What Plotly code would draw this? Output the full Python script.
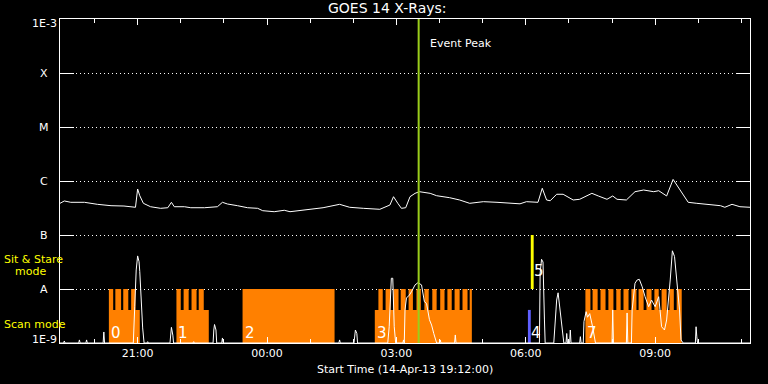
import numpy as np
import plotly.graph_objects as go

# ---------------- data ----------------
START = "2013-04-14 19:12:00"
END = "2013-04-15 11:12:00"
EVENT_PEAK = "03:31"

# GOES 14 long-channel flux (W/m^2)
FLUX_TIMES = ["19:12", "19:18", "19:27", "19:46", "20:04", "20:23", "20:41", "20:57", "21:00", "21:03",
              "21:08", "21:18", "21:32", "21:42", "21:47", "21:51", "22:05", "22:14", "22:33", "22:51",
              "22:58", "23:05", "23:19", "23:33", "23:47", "23:54", "00:10", "00:24", "00:32", "00:55",
              "01:18", "01:41", "01:55", "02:14", "02:37", "02:51", "02:56", "03:02", "03:07", "03:13",
              "03:19", "03:26", "03:32", "03:47", "03:56", "04:14", "04:28", "04:42", "05:01", "05:20",
              "05:38", "05:52", "06:01", "06:17", "06:23", "06:29", "06:34", "06:43", "06:52", "07:06",
              "07:15", "07:32", "07:41", "07:53", "08:01", "08:07", "08:20", "08:32", "08:44", "08:58",
              "09:05", "09:16", "09:25", "09:30", "09:40", "09:46", "09:58", "10:12", "10:31", "10:37",
              "10:47", "10:58", "11:12"]
FLUX_VALUES = [3.86e-7, 4.27e-7, 4.03e-7, 4.03e-7, 3.70e-7, 3.49e-7, 3.44e-7, 3.26e-7, 7.11e-7, 5.34e-7,
               3.86e-7, 3.34e-7, 3.12e-7, 3.20e-7, 4.03e-7, 3.34e-7, 3.34e-7, 3.20e-7, 3.20e-7, 3.34e-7,
               4.03e-7, 3.75e-7, 3.49e-7, 3.20e-7, 3.12e-7, 2.82e-7, 2.70e-7, 2.87e-7, 2.70e-7, 2.90e-7,
               3.20e-7, 3.70e-7, 3.26e-7, 3.12e-7, 2.99e-7, 3.59e-7, 5.12e-7, 3.86e-7, 3.12e-7, 3.20e-7,
               5.12e-7, 5.91e-7, 6.34e-7, 5.91e-7, 5.34e-7, 4.91e-7, 4.45e-7, 3.86e-7, 4.14e-7, 4.03e-7,
               3.86e-7, 3.78e-7, 4.14e-7, 4.03e-7, 7.33e-7, 4.45e-7, 4.31e-7, 5.68e-7, 5.68e-7, 4.45e-7,
               4.58e-7, 5.91e-7, 5.28e-7, 4.58e-7, 5.28e-7, 4.58e-7, 4.45e-7, 6.34e-7, 6.81e-7, 6.34e-7,
               6.61e-7, 5.28e-7, 1.07e-6, 8.43e-7, 5.12e-7, 4.03e-7, 3.86e-7, 3.70e-7, 3.49e-7, 3.26e-7,
               3.70e-7, 3.34e-7, 3.26e-7]

# lower-panel activity trace
LOW_TIMES = ["19:12", "19:17", "19:18", "19:19", "19:38", "19:39", "19:40", "19:48", "19:49", "19:50",
             "20:12", "20:13", "20:14", "20:54", "20:56", "20:58", "21:00", "21:02", "21:03", "21:04",
             "21:05", "21:07", "21:09", "21:13", "21:14", "21:15", "21:45", "21:46", "21:47", "21:49",
             "21:50", "22:17", "22:18", "22:19", "22:45", "22:46", "22:47", "22:49", "22:50", "22:57",
             "22:58", "22:59", "01:40", "01:41", "01:42", "02:01", "02:03", "02:05", "02:06", "02:48",
             "02:50", "02:53", "02:55", "02:57", "02:59", "03:09", "03:10", "03:11", "03:12", "03:14",
             "03:18", "03:21", "03:26", "03:30", "03:35", "03:39", "03:42", "03:46", "03:49", "03:52",
             "03:55", "03:56", "04:00", "04:01", "04:02", "04:21", "04:22", "04:23", "06:19", "06:20",
             "06:22", "06:24", "06:26", "06:27", "06:39", "06:41", "06:43", "06:45", "06:47", "06:50",
             "06:52", "06:53", "06:56", "06:57", "06:58", "07:01", "07:02", "07:03", "07:15", "07:16",
             "07:17", "07:20", "07:21", "07:24", "07:26", "07:29", "07:33", "07:36", "07:37", "08:00",
             "08:01", "08:02", "08:20", "08:21", "08:22", "08:27", "08:28", "08:32", "08:35", "08:38",
             "08:42", "08:46", "08:51", "08:55", "09:00", "09:05", "09:09", "09:13", "09:16", "09:21",
             "09:24", "09:27", "09:30", "09:34", "09:36", "09:39", "09:56", "09:57", "09:58", "09:59",
             "11:12"]
LOW_VALUES = [1e-9, 1e-9, 1.09e-9, 1e-9, 1e-9, 1.14e-9, 1e-9, 1e-9, 1.14e-9, 1e-9,
              1e-9, 1.6e-9, 1e-9, 1e-9, 4.8e-9, 2.25e-8, 4.1e-8, 3.2e-8, 2.1e-8, 1.2e-8,
              4.6e-9, 1.9e-9, 1e-9, 1e-9, 1.06e-9, 1e-9, 1e-9, 1.4e-9, 1.95e-9, 1.4e-9,
              1e-9, 1e-9, 1.06e-9, 1e-9, 1e-9, 1.74e-9, 2.2e-9, 1.74e-9, 1e-9, 1e-9,
              1.24e-9, 1e-9, 1e-9, 1.14e-9, 1e-9, 1e-9, 1.74e-9, 1.5e-9, 1e-9, 1e-9,
              2.0e-9, 1.58e-8, 1.58e-8, 2.0e-9, 1e-9, 1e-9, 1.14e-9, 1e-9, 4.1e-9, 6.8e-9,
              7.7e-9, 8.9e-9, 1.19e-8, 1.31e-8, 1.19e-8, 5.8e-9, 5.4e-9, 2.7e-9, 2.15e-9, 1.5e-9,
              1.06e-9, 1e-9, 1e-9, 1.14e-9, 1e-9, 1e-9, 1.41e-9, 1e-9, 1e-9, 1.98e-8,
              3.55e-8, 3.16e-8, 2.67e-9, 1e-9, 1e-9, 2.67e-9, 6.25e-9, 8.5e-9, 5.0e-9, 2.15e-9,
              1.14e-9, 1e-9, 1e-9, 1.5e-9, 1e-9, 1e-9, 1.74e-9, 1e-9, 1e-9, 1.31e-9,
              1e-9, 1e-9, 2.5e-9, 3.8e-9, 3.0e-9, 3.5e-9, 2.0e-9, 1.1e-9, 1e-9, 1e-9,
              4.1e-9, 1e-9, 1e-9, 3.6e-9, 1e-9, 1e-9, 4.1e-9, 1.28e-8, 1.47e-8, 1.51e-8,
              1.1e-8, 7.2e-9, 4.7e-9, 6.25e-9, 4.7e-9, 7.2e-9, 2.0e-9, 1.74e-9, 2.67e-9, 1.47e-8,
              5.1e-8, 4.0e-8, 1.28e-8, 4.1e-9, 1.14e-9, 1e-9, 1e-9, 2.0e-9, 1.3e-9, 1e-9,
              1e-9]

# observing-mode blocks
SCAN_BLOCKS = [("20:20", "21:03"), ("21:54", "22:39"), ("23:26", "01:34"),
               ("02:30", "04:45"), ("07:23", "09:37")]
STARE_WINDOWS = [("20:20", "20:26"), ("20:29", "20:37"), ("20:40", "20:47"), ("20:51", "20:57"),
                 ("21:54", "22:00"), ("22:04", "22:11"), ("22:15", "22:22"), ("22:25", "22:32"),
                 ("23:26", "01:34"),
                 ("02:35", "02:41"), ("02:45", "02:52"), ("02:56", "03:03"), ("03:06", "03:13"),
                 ("03:17", "03:23"), ("03:28", "03:34"), ("03:39", "03:45"), ("03:50", "03:56"),
                 ("04:01", "04:07"), ("04:11", "04:17"), ("04:21", "04:28"), ("04:32", "04:39"),
                 ("04:42", "04:45"),
                 ("07:23", "07:30"), ("07:33", "07:40"), ("07:44", "07:51"), ("07:55", "08:02"),
                 ("08:06", "08:12"), ("08:16", "08:23"), ("08:27", "08:34"), ("08:37", "08:44"),
                 ("08:48", "08:55"), ("08:59", "09:05"), ("09:09", "09:16"), ("09:20", "09:26"),
                 ("09:30", "09:37")]
BLUE_BLOCKS = [("06:03", "06:07")]
YELLOW_BLOCKS = [("06:07", "06:11")]

BLOCK_LABELS = ["0", "1", "2", "3", "4", "5", "7"]
BLOCK_LABEL_TIMES = ["20:20", "21:54", "23:26", "02:30", "06:05", "06:08", "07:23"]

BAND_BOTTOM = 1e-9
SCAN_TOP = 4.1e-9
STARE_TOP = 1e-8
YELLOW_TOP = 1e-7

Y_TICK_VALUES = [1e-3, 1e-4, 1e-5, 1e-6, 1e-7, 1e-8, 1e-9]
Y_TICK_TEXT = ["1E-3", "X", "M", "C", "B", "A", "1E-9"]


def ts(hhmm):
    h = int(hhmm[:2])
    day = "2013-04-14" if h >= 19 else "2013-04-15"
    return f"{day} {hhmm}:00"


def rects(pairs, lo, hi):
    xs, ys = [], []
    for a, b in pairs:
        xs += [ts(a), ts(b), ts(b), ts(a), ts(a), None]
        ys += [lo, lo, hi, hi, lo, None]
    return xs, ys


ORANGE = "#ff8000"
FONT = "DejaVu Sans"

fig = go.Figure()

for pairs, lo, hi, col in [(SCAN_BLOCKS, BAND_BOTTOM, SCAN_TOP, ORANGE),
                           (STARE_WINDOWS, SCAN_TOP, STARE_TOP, ORANGE),
                           (BLUE_BLOCKS, BAND_BOTTOM, SCAN_TOP, "#5f5fff"),
                           (YELLOW_BLOCKS, STARE_TOP, YELLOW_TOP, "#ffff00")]:
    xs, ys = rects(pairs, lo, hi)
    fig.add_trace(go.Scatter(x=xs, y=ys, mode="lines", fill="toself", fillcolor=col,
                             line=dict(width=0, color=col), hoverinfo="skip", showlegend=False))

fig.add_trace(go.Scatter(x=[ts(t) for t in LOW_TIMES], y=LOW_VALUES, mode="lines",
                         line=dict(color="white", width=1), showlegend=False))
fig.add_trace(go.Scatter(x=[ts(t) for t in FLUX_TIMES], y=FLUX_VALUES, mode="lines",
                         line=dict(color="white", width=1), showlegend=False))
fig.add_trace(go.Scatter(x=[ts(EVENT_PEAK), ts(EVENT_PEAK)], y=[1e-9, 1e-3], mode="lines",
                         line=dict(color="#9acd1a", width=2), showlegend=False))

L, R, T, B = 60, 18, 19, 41
W, H = 768, 384
PW, PH = W - L - R, H - T - B


def px_x(p):
    return (p - L) / PW


def px_y(p):
    return (H - B - p) / PH


annotations = []
for v, txt in zip(Y_TICK_VALUES, Y_TICK_TEXT):
    shift = 0
    if v == 1e-3:
        shift = -4
    elif v == 1e-9:
        shift = 4
    annotations.append(dict(text=txt, xref="paper", yref="y", x=px_x(44), y=np.log10(v),
                            xanchor="center", yanchor="middle", yshift=shift, showarrow=False,
                            font=dict(family=FONT, size=11, color="white")))

for txt, x, y in [("Sit & Stare", 2, 259), ("mode", 13, 271), ("Scan mode", 2, 324)]:
    annotations.append(dict(text=txt, xref="paper", yref="paper", x=px_x(x), y=px_y(y),
                            xanchor="left", yanchor="middle", showarrow=False,
                            font=dict(family=FONT, size=11, color="#ffff00")))

for lab, t in zip(BLOCK_LABELS, BLOCK_LABEL_TIMES):
    y = 271 if lab == "5" else 333
    annotations.append(dict(text=lab, xref="x", yref="paper", x=ts(t), y=px_y(y),
                            xanchor="left", yanchor="middle", xshift=0, showarrow=False,
                            font=dict(family=FONT, size=15, color="white")))

annotations.append(dict(text="Event Peak", xref="x", yref="paper", x=ts(EVENT_PEAK), y=px_y(43),
                        xanchor="left", yanchor="middle", xshift=9, showarrow=False,
                        font=dict(family=FONT, size=11, color="white")))
annotations.append(dict(text="GOES 14 X-Rays:", xref="paper", yref="paper", x=px_x(387), y=px_y(8),
                        xanchor="center", yanchor="middle", showarrow=False,
                        font=dict(family=FONT, size=14, color="white")))
annotations.append(dict(text="Start Time (14-Apr-13 19:12:00)", xref="paper", yref="paper",
                        x=px_x(405), y=px_y(369), xanchor="center", yanchor="middle",
                        showarrow=False, font=dict(family=FONT, size=11, color="white")))

fig.update_layout(
    width=W, height=H,
    margin=dict(l=L, r=R, t=T, b=B, pad=0),
    paper_bgcolor="black", plot_bgcolor="black",
    showlegend=False,
    annotations=annotations,
    xaxis=dict(type="date", range=[START, END], tickformat="%H:%M",
               tick0="2013-04-14 21:00:00", dtick=3 * 3600000,
               ticks="inside", ticklen=6, tickcolor="white", tickwidth=1,
               ticklabelstandoff=0,
               showgrid=False, zeroline=False, showline=True, linecolor="white", linewidth=1,
               mirror="ticks",
               minor=dict(tick0="2013-04-14 21:00:00", dtick=3600000, ticks="inside",
                          ticklen=4, tickcolor="white", showgrid=False),
               tickfont=dict(family=FONT, size=11, color="white")),
    yaxis=dict(type="log", range=[-9, -3], tickvals=Y_TICK_VALUES[1:-1],
               ticks="inside", ticklen=14, tickcolor="white", tickwidth=1,
               showticklabels=False,
               showgrid=True, gridcolor="white", gridwidth=1, griddash="1px,3px",
               zeroline=False, showline=True, linecolor="white", linewidth=1, mirror="ticks"),
)

fig.write_html("out.html", config={"displayModeBar": False},
               post_script="document.body.style.margin='0';document.body.style.background='black';")
